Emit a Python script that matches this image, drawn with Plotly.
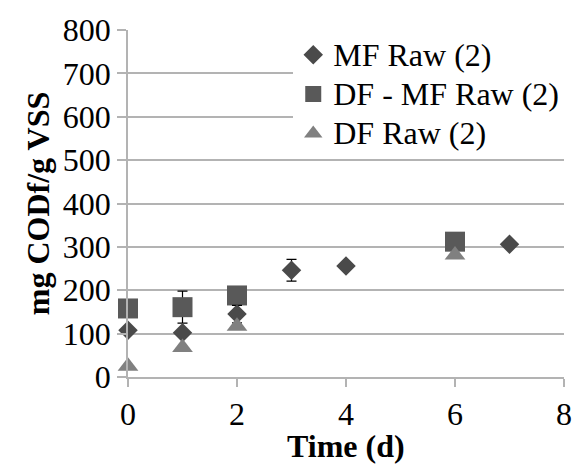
import plotly.graph_objects as go

# Data
mf_x = [0, 1, 2, 3, 4, 7]
mf_y = [108, 102, 145, 246, 256, 306]
mf_err = [0, 0, 20, 25, 0, 0]

dfmf_x = [0, 1, 2, 6]
dfmf_y = [158, 161, 188, 312]
dfmf_err = [0, 37, 0, 0]

df_x = [0, 1, 2, 6]
df_y = [25, 68, 117, 281]
df_err = [0, 0, 0, 0]

x_ticks = [0, 2, 4, 6, 8]
y_ticks = [0, 100, 200, 300, 400, 500, 600, 700, 800]

FONT = "Liberation Serif"
GRID = "#b3b3b3"


def legend_name(s):
    return '<span style="font-size:32px">' + s + "</span>"


fig = go.Figure()

fig.add_trace(go.Scatter(
    x=dfmf_x, y=dfmf_y, mode="markers", name=legend_name("DF - MF Raw (2)"), legendrank=2,
    marker=dict(symbol="square", size=20, color="#595959"), cliponaxis=False,
    error_y=dict(type="data", array=dfmf_err, color="black", thickness=1.2, width=5),
))
fig.add_trace(go.Scatter(
    x=mf_x, y=mf_y, mode="markers", name=legend_name("MF Raw (2)"), legendrank=1,
    marker=dict(symbol="diamond", size=15, color="#4a4a4a"), cliponaxis=False,
    error_y=dict(type="data", array=mf_err, color="black", thickness=1.2, width=5),
))
fig.add_trace(go.Scatter(
    x=df_x, y=df_y, mode="markers", name=legend_name("DF Raw (2)"), legendrank=3,
    marker=dict(symbol="triangle-up", size=18, color="#808080"), cliponaxis=False,
    error_y=dict(type="data", array=df_err, color="black", thickness=1.2, width=5),
))

fig.add_annotation(
    text="<b>Time (d)</b>", xref="paper", yref="paper", x=0.5, y=-0.2,
    xanchor="center", yanchor="middle", showarrow=False,
    font=dict(family=FONT, size=32, color="black"),
)

fig.update_layout(
    width=585, height=473,
    margin=dict(l=128, r=21, t=22, b=96),
    paper_bgcolor="white", plot_bgcolor="white",
    font=dict(color="black"),
    showlegend=True,
    legend=dict(
        x=0.379, y=1.0, xanchor="left", yanchor="top",
        bgcolor="white", borderwidth=0,
        font=dict(family=FONT, size=28),
        tracegroupgap=0,
    ),
    xaxis=dict(
        range=[0, 8], tickvals=x_ticks,
        showgrid=False, zeroline=False,
        showline=True, linecolor=GRID, linewidth=1.5,
        ticks="outside", ticklen=8, tickcolor=GRID, tickwidth=1.5,
        tickfont=dict(family=FONT, size=32),
    ),
    yaxis=dict(
        range=[0, 800], tickvals=y_ticks,
        showgrid=True, gridcolor=GRID, gridwidth=1.5, zeroline=False,
        showline=True, linecolor=GRID, linewidth=1.5,
        ticks="outside", ticklen=9, tickcolor=GRID, tickwidth=1.5,
        tickfont=dict(family=FONT, size=32),
        title=dict(text="<b>mg CODf/g VSS</b>", font=dict(family=FONT, size=32), standoff=4),
    ),
)

fig.write_html("out.html")
